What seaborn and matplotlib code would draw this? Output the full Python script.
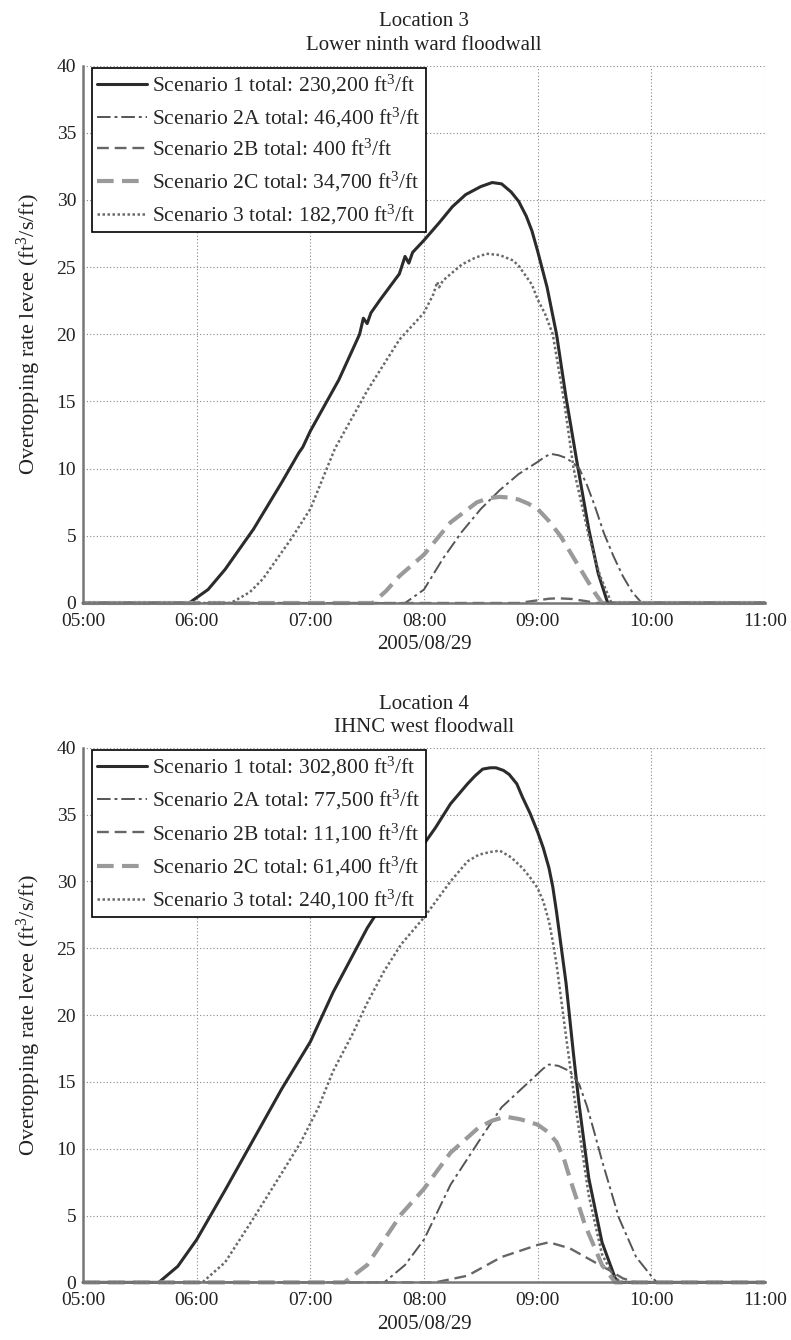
import matplotlib
matplotlib.use("Agg")
import matplotlib.pyplot as plt
import matplotlib.dates as mdates
import pandas as pd
import seaborn as sns

DAY = "2005-08-29"

# ---------------- Location 3 ----------------
loc3_s1_t = ["05:00", "05:56", "06:06", "06:15", "06:30", "06:45", "06:54", "06:56", "07:00", "07:15",
             "07:26", "07:28", "07:30", "07:32", "07:37", "07:47", "07:50", "07:52", "07:54", "08:00",
             "08:08", "08:15", "08:22", "08:30", "08:36", "08:41", "08:46", "08:50", "08:54", "08:57",
             "09:00", "09:05", "09:10", "09:15", "09:21", "09:27", "09:32", "09:37", "11:00"]
loc3_s1_v = [0, 0, 1.0, 2.5, 5.5, 9.0, 11.2, 11.6, 12.8, 16.6,
             20.0, 21.2, 20.8, 21.6, 22.6, 24.5, 25.8, 25.3, 26.1, 27.0,
             28.3, 29.5, 30.4, 31.0, 31.3, 31.2, 30.6, 29.9, 28.8, 27.7,
             26.2, 23.5, 20.0, 15.3, 10.3, 5.5, 2.2, 0, 0]

loc3_s2a_t = ["05:00", "07:50", "08:00", "08:10", "08:20", "08:30", "08:40", "08:50", "09:00", "09:04",
              "09:07", "09:11", "09:15", "09:19", "09:22", "09:26", "09:30", "09:35", "09:40", "09:45",
              "09:50", "09:55", "11:00"]
loc3_s2a_v = [0, 0, 1.0, 3.3, 5.3, 7.0, 8.4, 9.6, 10.5, 10.9,
              11.1, 11.0, 10.8, 10.4, 10.0, 8.8, 7.3, 5.2, 3.5, 2.0,
              0.8, 0, 0]

loc3_s2b_t = ["05:00", "08:50", "09:00", "09:06", "09:11", "09:18", "09:25", "09:31", "11:00"]
loc3_s2b_v = [0, 0, 0.2, 0.32, 0.35, 0.3, 0.15, 0, 0]

loc3_s2c_t = ["05:00", "07:33", "07:40", "07:47", "08:00", "08:14", "08:28", "08:34", "08:40", "08:45",
              "08:50", "08:55", "09:00", "09:06", "09:12", "09:18", "09:24", "09:30", "09:34", "11:00"]
loc3_s2c_v = [0, 0, 0.9, 2.0, 3.6, 6.0, 7.5, 7.8, 7.9, 7.85,
              7.7, 7.4, 7.0, 6.1, 5.0, 3.6, 2.2, 0.8, 0, 0]

loc3_s3_t = ["05:00", "06:18", "06:28", "06:35", "06:42", "06:50", "07:00", "07:13", "07:30", "07:47",
             "08:00", "08:05", "08:07", "08:08", "08:10", "08:20", "08:27", "08:33", "08:40", "08:47",
             "08:50", "08:53", "08:57", "09:00", "09:04", "09:08", "09:14", "09:19", "09:27", "09:33",
             "09:39", "11:00"]
loc3_s3_v = [0, 0, 0.8, 1.8, 3.2, 4.8, 7.0, 11.5, 15.8, 19.6,
             21.6, 23.0, 23.9, 23.5, 24.0, 25.2, 25.7, 26.0, 25.9, 25.5,
             25.1, 24.5, 23.7, 22.6, 21.5, 20.0, 15.0, 10.0, 5.0, 2.0,
             0, 0]

# ---------------- Location 4 ----------------
loc4_s1_t = ["05:00", "05:40", "05:50", "06:00", "06:15", "06:30", "06:45", "07:00", "07:12", "07:30",
             "07:48", "08:00", "08:06", "08:14", "08:23", "08:27", "08:31", "08:35", "08:38", "08:42",
             "08:45", "08:49", "08:52", "08:56", "09:00", "09:03", "09:06", "09:08", "09:10", "09:15",
             "09:19", "09:22", "09:27", "09:34", "09:41", "09:43", "11:00"]
loc4_s1_v = [0, 0, 1.2, 3.2, 6.9, 10.7, 14.5, 18.0, 21.7, 26.5,
             30.5, 32.8, 34.0, 35.8, 37.3, 37.9, 38.4, 38.5, 38.5, 38.3,
             38.0, 37.3, 36.3, 35.1, 33.7, 32.5, 31.0, 29.6, 27.7, 22.4,
             17.0, 13.2, 7.8, 3.0, 0.3, 0, 0]

loc4_s2a_t = ["05:00", "07:39", "07:50", "08:00", "08:14", "08:31", "08:41", "09:00", "09:03", "09:06",
              "09:11", "09:17", "09:22", "09:26", "09:30", "09:34", "09:43", "09:52", "10:01", "10:03",
              "11:00"]
loc4_s2a_v = [0, 0, 1.3, 3.2, 7.3, 11.0, 13.1, 15.6, 16.0, 16.3,
              16.2, 15.8, 14.8, 13.2, 11.2, 9.1, 4.8, 1.9, 0.3, 0,
              0]

loc4_s2b_t = ["05:00", "08:06", "08:23", "08:41", "09:00", "09:06", "09:17", "09:29", "09:38", "09:45",
              "09:52", "11:00"]
loc4_s2b_v = [0, 0, 0.5, 1.9, 2.8, 3.0, 2.55, 1.6, 0.9, 0.3,
              0, 0]

loc4_s2c_t = ["05:00", "07:18", "07:30", "07:48", "08:00", "08:14", "08:29", "08:36", "08:43", "08:51",
              "09:00", "09:05", "09:10", "09:14", "09:17", "09:25", "09:34", "09:41", "11:00"]
loc4_s2c_v = [0, 0, 1.3, 5.1, 7.0, 9.7, 11.6, 12.1, 12.4, 12.2,
              11.8, 11.3, 10.5, 9.2, 7.8, 4.3, 1.3, 0, 0]

loc4_s3_t = ["05:00", "06:03", "06:15", "06:30", "06:45", "06:55", "07:04", "07:12", "07:22", "07:30",
             "07:39", "07:48", "08:00", "08:14", "08:23", "08:29", "08:35", "08:40", "08:46", "08:52",
             "08:56", "09:00", "09:03", "09:06", "09:08", "09:10", "09:15", "09:20", "09:27", "09:34",
             "09:40", "09:44", "11:00"]
loc4_s3_v = [0, 0, 1.5, 4.8, 8.2, 10.5, 13.0, 15.8, 18.5, 20.9,
             23.3, 25.3, 27.3, 30.0, 31.5, 32.0, 32.2, 32.3, 31.8, 31.0,
             30.3, 29.5, 28.5, 27.0, 25.5, 23.8, 18.4, 13.2, 6.5, 2.1,
             0.5, 0, 0]

loc3_labels = ["Scenario 1 total: 230,200 ft$^3$/ft",
               "Scenario 2A total: 46,400 ft$^3$/ft",
               "Scenario 2B total: 400 ft$^3$/ft",
               "Scenario 2C total: 34,700 ft$^3$/ft",
               "Scenario 3 total: 182,700 ft$^3$/ft"]
loc4_labels = ["Scenario 1 total: 302,800 ft$^3$/ft",
               "Scenario 2A total: 77,500 ft$^3$/ft",
               "Scenario 2B total: 11,100 ft$^3$/ft",
               "Scenario 2C total: 61,400 ft$^3$/ft",
               "Scenario 3 total: 240,100 ft$^3$/ft"]

titles = ["Location 3\nLower ninth ward floodwall", "Location 4\nIHNC west floodwall"]
y_ticks = [0, 5, 10, 15, 20, 25, 30, 35, 40]
x_tick_labels = ["05:00", "06:00", "07:00", "08:00", "09:00", "10:00", "11:00"]

styles = [
    dict(color="#2b2b2b", linestyle="-", linewidth=2.2),
    dict(color="#555555", linestyle=(0, (7, 2, 1.5, 2)), linewidth=1.4),
    dict(color="#666666", linestyle=(0, (5, 2.5)), linewidth=1.7),
    dict(color="#9a9a9a", linestyle=(0, (4, 2)), linewidth=3.0),
    dict(color="#6a6a6a", linestyle=(0, (1, 1)), linewidth=1.8),
]

sns.set_theme(style="white")
plt.rcParams["font.family"] = ["Liberation Serif", "DejaVu Serif"]
plt.rcParams["mathtext.fontset"] = "custom"
plt.rcParams["mathtext.rm"] = "Liberation Serif"
plt.rcParams["mathtext.it"] = "Liberation Serif:italic"

def to_dt(times):
    return pd.to_datetime([f"{DAY} {t}" for t in times])

fig = plt.figure(figsize=(7.91, 13.40), dpi=100)
ax_top = fig.add_axes([0.105, 0.550, 0.862, 0.401])
ax_bot = fig.add_axes([0.105, 0.043, 0.862, 0.399])

datasets = [
    (ax_top, [(loc3_s1_t, loc3_s1_v), (loc3_s2a_t, loc3_s2a_v), (loc3_s2b_t, loc3_s2b_v),
              (loc3_s2c_t, loc3_s2c_v), (loc3_s3_t, loc3_s3_v)], loc3_labels, titles[0]),
    (ax_bot, [(loc4_s1_t, loc4_s1_v), (loc4_s2a_t, loc4_s2a_v), (loc4_s2b_t, loc4_s2b_v),
              (loc4_s2c_t, loc4_s2c_v), (loc4_s3_t, loc4_s3_v)], loc4_labels, titles[1]),
]

xmin = pd.Timestamp(f"{DAY} {x_tick_labels[0]}")
xmax = pd.Timestamp(f"{DAY} {x_tick_labels[-1]}")
xticks = to_dt(x_tick_labels)

for ax, series, labels, title in datasets:
    for (tt, vv), lab, st in zip(series, labels, styles):
        df = pd.DataFrame({"time": to_dt(tt), "rate": vv})
        sns.lineplot(data=df, x="time", y="rate", ax=ax, label=lab, estimator=None,
                     sort=False, clip_on=False, **st)
    ax.set_xlim(xmin, xmax)
    ax.set_ylim(0, 40)
    ax.set_xticks(xticks)
    ax.xaxis.set_major_formatter(mdates.DateFormatter("%H:%M"))
    ax.set_yticks(y_ticks)
    ax.grid(True, linestyle=(0, (1, 2)), color="#888888", linewidth=0.8)
    for side in ["top", "right"]:
        ax.spines[side].set_visible(False)
    for side in ["left", "bottom"]:
        ax.spines[side].set_color("#777777")
        ax.spines[side].set_linewidth(1.8)
    ax.tick_params(direction="in", length=5, width=1, colors="#777777",
                   labelcolor="#222222", labelsize=14)
    ax.tick_params(axis="x", pad=7)
    ax.tick_params(axis="y", pad=5)
    ax.set_title(title, fontsize=15, color="#222222", pad=11, linespacing=1.35)
    ax.set_xlabel("2005/08/29", fontsize=15, color="#222222", labelpad=4)
    ax.set_ylabel("Overtopping rate levee (ft$^3$/s/ft)", fontsize=16, color="#222222", labelpad=10)
    leg = ax.legend(loc="upper left", bbox_to_anchor=(0.013, 0.996), borderaxespad=0,
                    fontsize=15.5, frameon=True, fancybox=False,
                    edgecolor="black", framealpha=1, handlelength=2.3, handletextpad=0.23,
                    borderpad=0.25, labelspacing=0.42)
    leg.get_frame().set_linewidth(1.2)
    leg.set_zorder(5)

fig.savefig("out.png", dpi=100)
